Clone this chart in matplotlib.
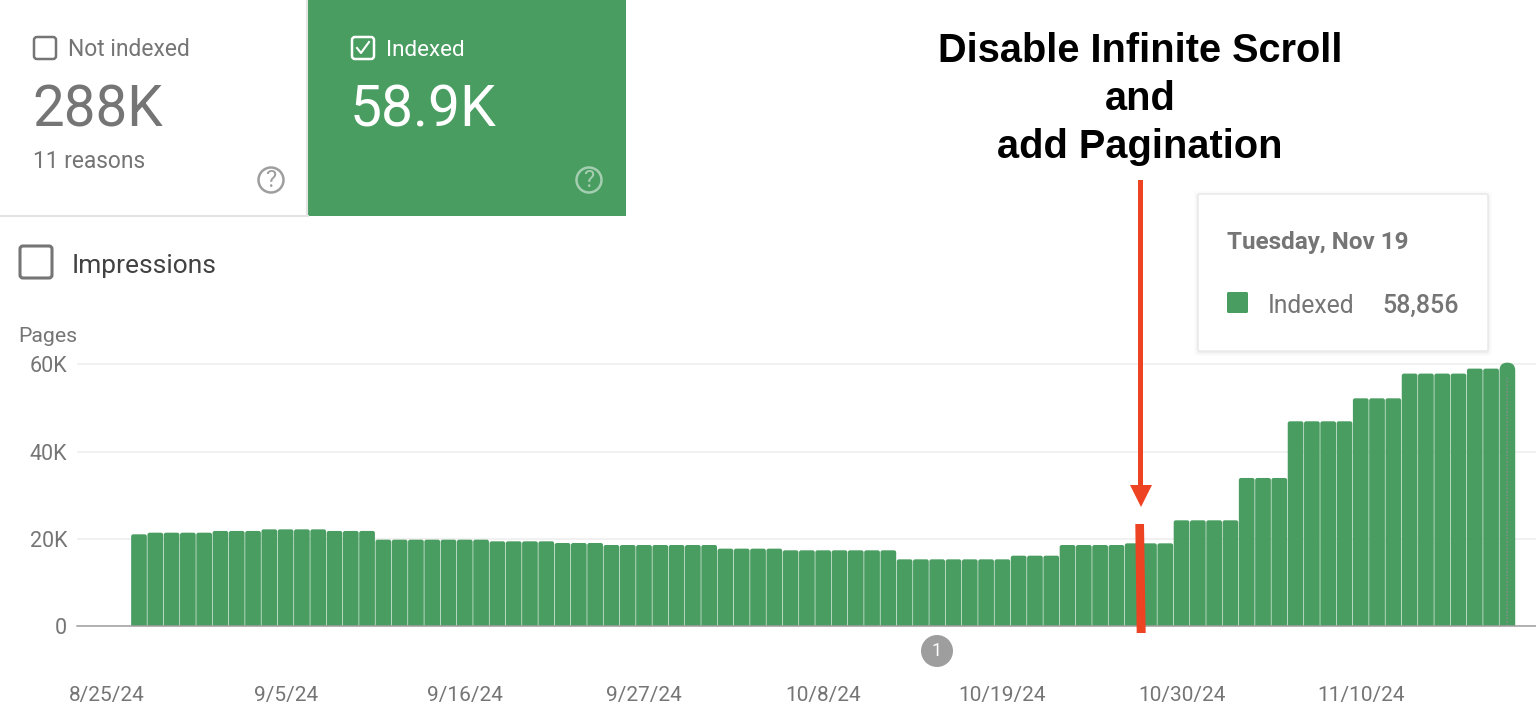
import matplotlib
matplotlib.use('Agg')
import matplotlib.pyplot as plt
import matplotlib.dates as mdates
import pandas as pd
from matplotlib.patches import Circle, FancyBboxPatch, Polygon, Rectangle

plt.rcParams['font.family'] = ['Roboto', 'DejaVu Sans']

GREEN = '#499d61'
RED = '#ee4323'
GRAY = '#757575'

first_day = '2024-08-27'
indexed = [
    21030,
    21400, 21400, 21400, 21400,
    21800, 21800, 21800,
    22170, 22170, 22170, 22170,
    21800, 21800, 21800,
    19800, 19800, 19800, 19800, 19800, 19800, 19800,
    19420, 19420, 19420, 19420,
    19040, 19040, 19040,
    18580, 18580, 18580, 18580, 18580, 18580, 18580,
    17740, 17740, 17740, 17740,
    17360, 17360, 17360, 17360, 17360, 17360, 17360,
    15290, 15290, 15290, 15290, 15290, 15290, 15290,
    16130, 16130, 16130,
    18580, 18580, 18580, 18580,
    18960, 18960, 18960,
    24240, 24240, 24240, 24240,
    33950, 33950, 33950,
    46950, 46950, 46950, 46950,
    52220, 52220, 52220,
    57890, 57890, 57890, 57890,
    59030, 59030,
    60400,
]
tick_dates = ['2024-08-25', '2024-09-05', '2024-09-16', '2024-09-27', '2024-10-08',
              '2024-10-19', '2024-10-30', '2024-11-10']
tick_labels = ['8/25/24', '9/5/24', '9/16/24', '9/27/24', '10/8/24',
               '10/19/24', '10/30/24', '11/10/24']
y_ticks = [0, 20000, 40000, 60000]
y_labels = ['0', '20K', '40K', '60K']
title_lines = ['Disable Infinite Scroll', 'and', 'add Pagination']

W, H = 1536, 719
fig = plt.figure(figsize=(W / 100, H / 100), dpi=100, facecolor='white')

# chart axes: pixel box chosen so 0 sits on y=626 and 20K takes 87.2 px
px_per_day = 16.29
px_per_unit = 87.2 / 20000
top_px = 340
ax = fig.add_axes([77 / W, (H - 626) / H, (W - 77) / W, (626 - top_px) / H])
ax.set_ylim(0, (626 - top_px) / px_per_unit)
d0 = mdates.date2num(pd.Timestamp(tick_dates[0]))
ax.set_xlim(d0 - (106.42 - 77) / px_per_day, d0 + (W - 106.42) / px_per_day)
ax.patch.set_alpha(0)
for side in ['top', 'left', 'right']:
    ax.spines[side].set_visible(False)
ax.spines['bottom'].set_color('#9e9e9e')
ax.spines['bottom'].set_linewidth(1.1)
ax.spines['bottom'].set_zorder(5)

ax.grid(axis='y', color='#eeeeee', linewidth=1.1)
ax.set_axisbelow(True)
ax.set_yticks(y_ticks, y_labels, color=GRAY, fontsize=15.5)
ax.set_xticks(mdates.date2num(pd.to_datetime(tick_dates)), tick_labels, color=GRAY, fontsize=15)
ax.tick_params(length=0)
ax.tick_params(axis='y', pad=7)
ax.tick_params(axis='x', pad=43)

dates = mdates.date2num(pd.date_range(first_day, periods=len(indexed)))
bar_w = 0.965
aspect = 1 / (px_per_unit / px_per_day)
below = 3000
for i, (d, v) in enumerate(zip(dates, indexed)):
    rounding = 0.47 if i == len(indexed) - 1 else 0.13
    ax.add_patch(FancyBboxPatch((d - bar_w / 2, -below), bar_w, v + below,
                                boxstyle=f'round,pad=0,rounding_size={rounding}',
                                mutation_aspect=aspect, facecolor=GREEN, edgecolor='none', zorder=3))
# hover line in the last bar
ax.vlines(dates[-1], 0, 56800, color='#7f8f86', linewidth=1.2, linestyle=(0, (1, 1)), zorder=4)

# everything else is page furniture, in pixel coordinates
ov = fig.add_axes([0, 0, 1, 1], zorder=10)
ov.set_xlim(0, W)
ov.set_ylim(H, 0)
ov.axis('off')

# summary cards
ov.add_patch(Rectangle((308, 0), 318, 216, facecolor=GREEN, edgecolor='none'))
ov.plot([0, 308], [215.5, 215.5], color='#e4e4e4', lw=1.5)
ov.plot([306.5, 306.5], [0, 215], color='#e4e4e4', lw=1.5)


def checkbox(x, y, size, color, lw=1.8):
    ov.add_patch(FancyBboxPatch((x, y), size, size, boxstyle='round,pad=0,rounding_size=3',
                                facecolor='none', edgecolor=color, linewidth=lw))


def help_icon(x, y, color, alpha=1.0):
    ov.add_patch(Circle((x, y), 12.5, facecolor='none', edgecolor=color, linewidth=1.8, alpha=alpha))
    ov.text(x, y + 0.5, '?', color=color, alpha=alpha, fontsize=17, ha='center', va='center')


checkbox(34, 37, 22, GRAY)
ov.text(68, 50, 'Not indexed', color=GRAY, fontsize=16.5, va='center')
ov.text(32, 111, '288K', color=GRAY, fontsize=40.7, va='center')
ov.text(33, 162, '11 reasons', color=GRAY, fontsize=16.4, va='center')
help_icon(271, 180, '#9e9e9e')

checkbox(352, 37, 22, 'white')
ov.plot([357, 361, 369], [48, 53, 42], color='white', lw=1.5)
ov.text(386, 50, 'Indexed', color='white', fontsize=16.2, va='center')
ov.text(350, 111, '58.9K', color='white', fontsize=41, va='center')
help_icon(589, 180, 'white', alpha=0.5)

checkbox(20, 246, 32, GRAY, lw=2.2)
ov.text(72, 265.5, 'Impressions', color='#424242', fontsize=19, va='center')
ov.text(18, 337, 'Pages', color=GRAY, fontsize=15.3, va='center')

# annotation badge
ov.add_patch(Circle((937, 651), 16, facecolor='#9e9e9e', edgecolor='none'))
ov.text(937, 651, '1', color='white', fontsize=13, ha='center', va='center')

# tooltip
for grow, alpha in [(4, 0.012), (2.5, 0.02), (1.2, 0.03)]:
    ov.add_patch(FancyBboxPatch((1198 - grow, 195 - grow), 290 + 2 * grow, 157 + 2 * grow,
                                boxstyle='round,pad=0,rounding_size=3', facecolor='black',
                                edgecolor='none', alpha=alpha))
ov.add_patch(FancyBboxPatch((1198, 194), 290, 157, boxstyle='round,pad=0,rounding_size=2',
                            facecolor='white', edgecolor='#e8e8e8', linewidth=1))
ov.text(1227, 243, 'Tuesday, Nov 19', color=GRAY, fontsize=17.5, fontweight='bold', va='center')
ov.add_patch(FancyBboxPatch((1227, 292), 21, 21, boxstyle='round,pad=0,rounding_size=1.5',
                            facecolor=GREEN, edgecolor='none'))
ov.text(1268, 306, 'Indexed', color=GRAY, fontsize=17.8, va='center')
ov.text(1382.5, 306, '58,856', color=GRAY, fontsize=18, fontweight='medium', va='center')

# headline
for y, line in zip([51, 99, 147], title_lines):
    ov.text(1140, y, line, family='Liberation Sans', color='black', fontsize=28.6,
            fontweight='bold', ha='center', va='center')

# red arrow and launch marker
ov.add_patch(Rectangle((1137.7, 180), 5, 308, facecolor=RED, edgecolor='none'))
ov.add_patch(Polygon([(1130, 485), (1152, 485), (1141, 507)], facecolor=RED, edgecolor='none'))
ov.add_patch(Polygon([(1135.3, 524), (1144, 524), (1145.7, 633), (1136.7, 633)],
                     facecolor=RED, edgecolor='none'))

fig.savefig('out.png', dpi=100, facecolor='white')
plt.close(fig)
